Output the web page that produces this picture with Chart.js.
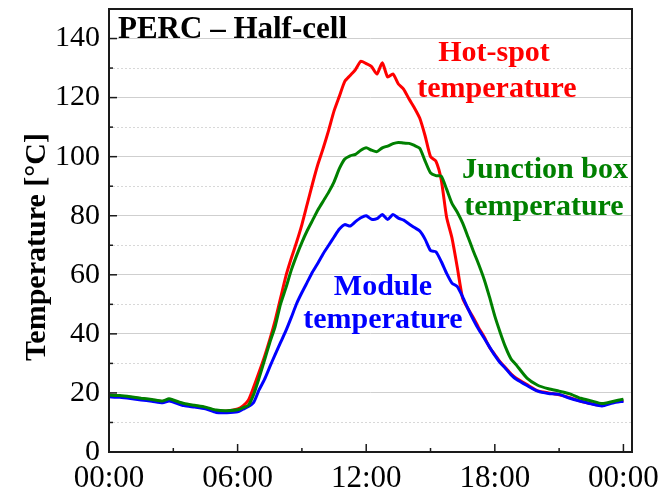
<!DOCTYPE html>
<html>
<head>
<meta charset="utf-8">
<script src="https://cdn.jsdelivr.net/npm/chart.js@4/dist/chart.umd.min.js"></script>
<style>
  html, body { margin: 0; padding: 0; background: #fff; }
  canvas { display: block; }
</style>
</head>
<body>
<canvas id="tempChart" width="659" height="488"></canvas>
<script>
// time of day in hours
const hours = [0, 0.5, 1, 1.5, 2, 2.5, 2.8, 3, 3.5, 4, 4.5, 5, 5.5, 6, 6.25, 6.5, 6.75,
  7, 7.25, 7.5, 7.75, 8, 8.25, 8.5, 8.75, 9, 9.25, 9.5, 9.75, 10, 10.25, 10.5, 10.75,
  11, 11.25, 11.5, 11.75, 12, 12.25, 12.5, 12.75, 13, 13.25, 13.5, 13.75, 14, 14.25, 14.5, 14.75,
  15, 15.25, 15.5, 15.75, 16, 16.25, 16.5, 16.75, 17, 17.25, 17.5, 17.75, 18, 18.25, 18.5, 18.75,
  19, 19.5, 20, 20.5, 21, 21.5, 22, 22.5, 23, 23.5, 24];

const hotSpot = [19.0, 18.9, 18.5, 18.0, 17.6, 17.1, 17.8, 17.4, 16.2, 15.6, 15.0, 14.0, 13.9, 14.6, 15.6, 17.5, 22,
  27, 32.2, 38, 44.5, 52, 59.5, 65.5, 71, 77, 84, 91, 97.5, 103, 109, 115.5, 120.5,
  125.5, 127.5, 129.5, 132.3, 131.5, 130.5, 128, 131.8, 127, 128, 124.6, 122.8, 119.5, 116.5, 113, 107,
  100, 98.5, 92.2, 79.5, 72.5, 62.5, 52, 48.5, 45.5, 42, 39, 35.5, 33, 30.5, 28.5, 26.5,
  25, 22.8, 20.7, 20.0, 19.4, 18.4, 17.2, 16.4, 15.8, 16.9, 17.4];

const junctionBox = [19.3, 19.1, 18.7, 18.2, 17.8, 17.3, 18.0, 17.6, 16.4, 15.8, 15.2, 14.2, 14.0, 14.3, 15.0, 15.8, 19.5,
  25, 31, 37, 42.5, 50, 55.5, 61.5, 66.5, 71, 75, 78.5, 82, 85, 88, 91.5, 96,
  99.2, 100.3, 100.8, 102.2, 103, 102.2, 101.7, 103, 103.6, 104.4, 104.8, 104.6, 104.5, 103.8, 102.8, 98.5,
  94.5, 93.6, 93.4, 89, 84.2, 81.2, 77.5, 72.8, 68, 63.5, 58.5, 52.5, 46, 40.5, 35.5, 31.6,
  29.5, 25, 22.6, 21.4, 20.6, 19.7, 18.2, 17.3, 16.4, 17.1, 17.9];

const moduleTemp = [18.7, 18.5, 18.1, 17.6, 17.2, 16.7, 17.3, 16.9, 15.7, 15.2, 14.6, 13.4, 13.3, 13.6, 14.5, 15.4, 16.8,
  21, 24.5, 28.8, 33, 37, 41, 45.5, 50.2, 54, 57.5, 61, 64, 67.2, 70, 72.8, 75.5,
  77, 76.5, 78, 79.3, 80, 78.8, 79, 80.4, 78.7, 80.4, 79.2, 78.5, 77.2, 76, 74.8, 72,
  68.2, 67.8, 64.5, 60.5, 57.2, 56, 52.5, 48.5, 44.8, 41.5, 38.6, 35.6, 32.7, 30.2, 28.3, 26.2,
  24.6, 22.5, 20.6, 19.8, 19.5, 18.2, 17.2, 16.3, 15.6, 16.6, 17.2];

const serif = '"Liberation Serif", "Times New Roman", serif';
const toPoints = arr => hours.map((h, i) => ({ x: h, y: arr[i] }));

// minor dotted grid, box frame, inward ticks and text labels
const decorPlugin = {
  id: 'decor',
  beforeDatasetsDraw(chart) {
    const { ctx, chartArea: a, scales: { y } } = chart;
    ctx.save();
    ctx.strokeStyle = '#d8d8d8';
    ctx.lineWidth = 1;
    ctx.setLineDash([2, 2]);
    for (let v = 10; v < 150; v += 20) {
      const py = Math.round(y.getPixelForValue(v)) + 0.5;
      ctx.beginPath();
      ctx.moveTo(a.left, py);
      ctx.lineTo(a.right, py);
      ctx.stroke();
    }
    ctx.restore();
  },
  afterDraw(chart) {
    const { ctx, chartArea: a, scales: { x, y } } = chart;
    ctx.save();
    ctx.strokeStyle = '#1a1a1a';
    ctx.lineWidth = 2;
    ctx.strokeRect(a.left, a.top, a.right - a.left, a.bottom - a.top);
    ctx.lineWidth = 1.5;
    for (let v = 10; v < 150; v += 10) {
      const py = y.getPixelForValue(v);
      const len = v % 20 === 0 ? 8 : 4;
      ctx.beginPath();
      ctx.moveTo(a.left, py);
      ctx.lineTo(a.left + len, py);
      ctx.stroke();
    }
    for (let h = 3; h <= 24; h += 3) {
      const px = x.getPixelForValue(h);
      const len = h % 6 === 0 ? 8 : 4;
      ctx.beginPath();
      ctx.moveTo(px, a.bottom);
      ctx.lineTo(px, a.bottom - len);
      ctx.stroke();
    }

    ctx.fillStyle = '#000';
    ctx.textBaseline = 'alphabetic';
    ctx.font = 'bold 30px ' + serif;
    ctx.save();
    ctx.translate(45, 247);
    ctx.rotate(-Math.PI / 2);
    ctx.textAlign = 'center';
    ctx.fillText('Temperature [\u00b0C]', 0, 0);
    ctx.restore();

    ctx.font = 'bold 31px ' + serif;
    ctx.textAlign = 'left';
    ctx.fillText('PERC \u2013 Half-cell', 118, 38);

    ctx.font = 'bold 30px ' + serif;
    ctx.textAlign = 'center';
    ctx.fillStyle = '#ff0000';
    ctx.fillText('Hot-spot', 494, 61);
    ctx.fillText('temperature', 497, 97);
    ctx.fillStyle = '#008000';
    ctx.fillText('Junction box', 545, 178);
    ctx.fillText('temperature', 544, 215);
    ctx.fillStyle = '#0000ff';
    ctx.fillText('Module', 383, 295);
    ctx.fillText('temperature', 383, 328);
    ctx.restore();
  }
};

new Chart(document.getElementById('tempChart').getContext('2d'), {
  type: 'line',
  data: {
    datasets: [
      { label: 'Junction box temperature', data: toPoints(junctionBox), borderColor: '#008000' },
      { label: 'Module temperature', data: toPoints(moduleTemp), borderColor: '#0000ff' },
      { label: 'Hot-spot temperature', data: toPoints(hotSpot), borderColor: '#ff0000' }
    ]
  },
  options: {
    responsive: false,
    animation: false,
    devicePixelRatio: 1,
    layout: { padding: { top: 9, right: 27, left: 0, bottom: 0 } },
    elements: {
      point: { radius: 0 },
      line: { borderWidth: 3, tension: 0.2, fill: false }
    },
    plugins: {
      legend: { display: false },
      tooltip: { enabled: false }
    },
    scales: {
      x: {
        type: 'linear',
        min: 0,
        max: 24.4,
        afterFit: s => { s.height = 36; s.paddingLeft = 0; s.paddingRight = 0; },
        grid: { display: false },
        border: { display: false },
        ticks: {
          stepSize: 6,
          includeBounds: false,
          maxRotation: 0,
          padding: 0,
          color: '#000',
          font: { family: serif, size: 31 },
          callback: v => String(v % 24).padStart(2, '0') + ':00'
        }
      },
      y: {
        min: 0,
        max: 150,
        afterFit: s => { s.width = 109; s.paddingTop = 0; s.paddingBottom = 0; },
        grid: { color: '#cfcfcf', lineWidth: 1, drawTicks: false },
        border: { display: false },
        ticks: {
          stepSize: 20,
          includeBounds: false,
          padding: 9,
          color: '#000',
          font: { family: serif, size: 30 }
        }
      }
    }
  },
  plugins: [decorPlugin]
});
</script>
</body>
</html>
